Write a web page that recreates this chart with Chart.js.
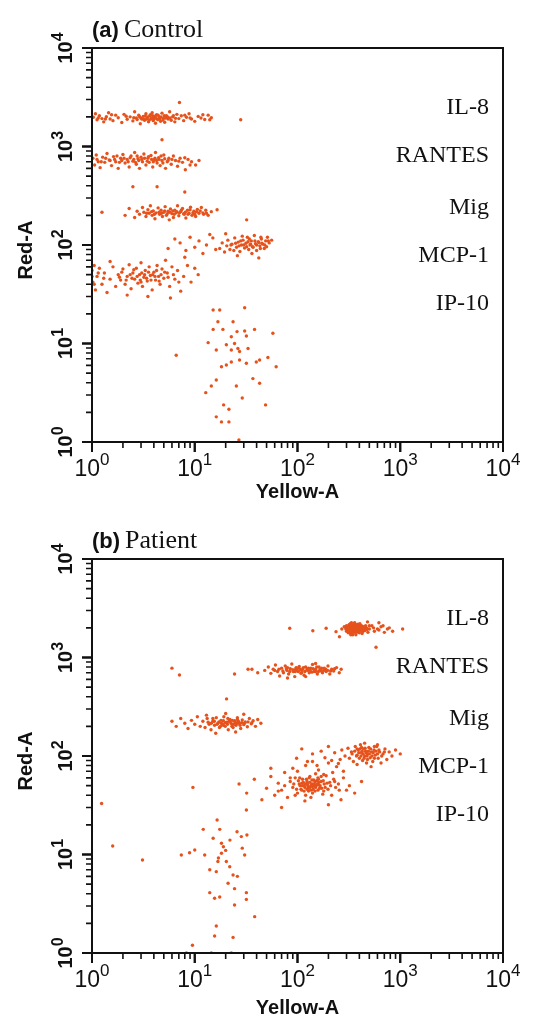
<!DOCTYPE html>
<html>
<head>
<meta charset="utf-8">
<title>Control vs Patient bead assay</title>
<script src="https://cdn.jsdelivr.net/npm/chart.js@4.4.1/dist/chart.umd.min.js"></script>
<style>
  html, body { margin: 0; padding: 0; background: #fff; }
  #wrap { position: relative; width: 547px; height: 1020px; }
  canvas { position: absolute; left: 0; }
  #chartA { top: 0; }
  #chartB { top: 510px; }
</style>
</head>
<body>
<div id="wrap">
  <canvas id="chartA" width="547" height="510"></canvas>
  <canvas id="chartB" width="547" height="510"></canvas>
</div>
<script>
// bead populations, each point is [Yellow-A, Red-A]
const beadNames = ['IL-8', 'RANTES', 'Mig', 'MCP-1', 'IP-10'];
const decadeExponents = [0, 1, 2, 3, 4];

// (a) control
const controlIL8 = [[1.03,1980],[1.08,2150],[1.12,1870],[1.18,2050],[1.25,1920],[1.3,1780],[1.38,2010],[1.45,2200],[1.5,1900],[1.6,1830],[1.7,2080],[1.8,1960],[1.95,1750],[2.05,2120],[2.2,1890],[2.35,2000],[2.5,1820],[2.6,2250],[2.7,1950],[2.85,2080],[2.95,1700],[3.05,1900],[3.15,2020],[3.25,1850],[3.35,2150],[3.45,1950],[3.55,1780],[3.65,2050],[3.75,1900],[3.85,2200],[3.95,1830],[4.05,1980],[4.15,1720],[4.25,2100],[4.35,1880],[4.5,2000],[4.65,1800],[4.8,2180],[4.95,1930],[5.1,1760],[5.3,2050],[5.5,1900],[5.7,2250],[5.9,1850],[6.1,2000],[6.4,1780],[6.7,2120],[7.0,1920],[7.4,2050],[7.8,1830],[8.3,1980],[8.8,2150],[9.3,1900],[10,1800],[10.8,2020],[11.5,1950],[12.5,1880],[13.5,2080],[14.5,1960],[7.1,2800],[4.8,1170],[28,1870],
  [2.55,1960],[2.75,1880],[2.9,2010],[3.0,1940],[3.2,1880],[3.3,2040],[3.4,1900],[3.5,1990],[3.6,1860],[3.7,2100],[3.8,1950],[3.9,2060],[4.0,1890],[4.1,2030],[4.2,1940],[4.4,2080],[4.55,1900],[4.7,1990],[4.9,1860],[5.05,2060],[5.2,1940],[5.45,1990],[5.75,1950],[6.2,2060],[6.5,1930],[1.15,1950],[1.35,1900],[1.55,2100],[2.15,2030],[8,2080],[9,1950],[12,2100],[14,1870]];
const controlRANTES = [[1.02,760],[1.06,650],[1.1,820],[1.15,700],[1.2,610],[1.27,780],[1.33,690],[1.4,850],[1.47,730],[1.55,640],[1.62,790],[1.7,700],[1.8,600],[1.9,760],[2.0,830],[2.1,680],[2.2,740],[2.3,620],[2.4,800],[2.5,710],[2.6,870],[2.7,660],[2.8,750],[2.9,600],[3.0,780],[3.1,700],[3.2,840],[3.35,650],[3.5,760],[3.6,690],[3.75,810],[3.9,620],[4.0,730],[4.15,870],[4.3,680],[4.45,770],[4.6,640],[4.8,720],[5.0,820],[5.2,600],[5.4,700],[5.6,760],[5.9,660],[6.2,800],[6.5,720],[6.8,630],[7.2,760],[7.6,690],[8.1,580],[8.6,740],[9.3,700],[10.2,650],[11,720],
  [1.12,740],[1.23,700],[1.36,760],[1.5,720],[1.66,740],[1.75,800],[1.85,690],[1.95,720],[2.05,760],[2.25,700],[2.35,770],[2.55,740],[2.65,690],[2.75,800],[2.85,720],[3.05,740],[3.25,760],[3.45,710],[3.55,790],[3.8,740],[3.95,700],[4.1,760],[4.25,720],[4.5,740],[4.7,800],[4.9,680],[5.1,750],[5.5,720],[6.0,740],[7.0,710],[8.0,770],[9,650]];
const controlMig = [[1.25,215],[2.1,200],[2.3,235],[2.5,390],[2.6,190],[2.75,220],[2.9,205],[3.1,240],[3.2,215],[3.35,195],[3.5,228],[3.6,210],[3.7,250],[3.85,200],[3.95,222],[4.1,185],[4.2,212],[4.3,390],[4.4,238],[4.55,205],[4.7,225],[4.85,195],[5.0,215],[5.15,245],[5.3,200],[5.5,220],[5.65,180],[5.8,232],[6.0,208],[6.2,190],[6.4,225],[6.6,212],[6.8,250],[7.0,198],[7.3,218],[7.6,235],[7.9,205],[8.0,345],[8.2,188],[8.5,225],[8.8,210],[9.1,242],[9.4,200],[9.8,220],[10.2,195],[10.6,230],[11,210],[11.6,240],[12.2,205],[12.8,225],[13.5,200],[14.5,218],[16.5,228],[32,180],
  [3.4,210],[3.8,218],[4.05,205],[4.5,215],[4.75,210],[5.1,222],[5.4,208],[5.7,215],[6.1,222],[6.3,205],[6.7,218],[7.1,212],[7.4,225],[7.8,208],[8.1,215],[8.6,205],[9.0,228],[9.6,212],[10,205],[10.4,218],[11.3,222],[12,212],[13,210]];
const controlMCP1 = [[17.5,92],[18.5,105],[19.5,85],[20.5,98],[21,112],[22,90],[23,102],[24,88],[24.5,118],[25.5,95],[26.5,107],[27.5,86],[28.5,100],[29.5,112],[30.5,93],[31.5,104],[32.5,120],[33.5,90],[34.5,100],[35.5,110],[37,95],[38,125],[39,103],[40,88],[41.5,108],[43,98],[44.5,115],[46,102],[47.5,92],[49,110],[51,120],[53,105],[56,112],[36,82],[29,123],[26,78],[15,118],[13,100],[12,82],[11,110],[10,95],[9,120],[8.2,88],[7.2,105],[6.4,115],[5.5,92],[14,128],[16,90],[20,130],[42,74],
  [22.5,100],[25,104],[27,98],[28,110],[30,100],[32,96],[33,108],[35,102],[36.5,96],[38.5,110],[40,100],[42,106],[43.5,92],[45,104],[48,100],[50,96],[52,110],[44,120],[34,115]];
const controlIP10 = [[1.0,55],[1.02,42],[1.05,62],[1.08,35],[1.12,48],[1.18,58],[1.25,40],[1.32,52],[1.4,33],[1.5,45],[1.6,60],[1.7,38],[1.8,50],[1.9,44],[2.0,57],[2.1,40],[2.2,48],[2.3,63],[2.4,36],[2.5,52],[2.6,45],[2.7,58],[2.8,41],[2.9,50],[3.0,66],[3.1,38],[3.2,47],[3.3,55],[3.45,43],[3.6,60],[3.7,49],[3.85,35],[4.0,53],[4.15,44],[4.3,62],[4.45,48],[4.6,40],[4.8,57],[5.0,46],[5.2,70],[5.4,52],[5.7,38],[6.0,60],[6.4,45],[6.8,55],[7.3,34],[7.8,48],[8.5,62],[9.2,42],[10,58],[10.8,50],[3.5,30],[2.2,31],[5.8,29],[1.5,68],[8,75],
  [1.85,47],[1.95,53],[2.15,44],[2.35,50],[2.45,46],[2.55,56],[2.75,48],[2.95,44],[3.05,52],[3.25,50],[3.4,46],[3.55,53],[3.75,44],[3.9,50],[4.1,48],[4.25,55],[4.5,43],[4.7,50],[5.1,53],[5.5,47],[1.3,46],[1.15,52],[1.0,48],[1.05,40],[6.2,50],[7,42],[3,42]];
const controlLow = [[15.1,21.9],[17.5,21.9],[30.6,23.1],[16.8,16.6],[23.6,16.6],[15.1,13.9],[18.8,13.9],[25.8,13.2],[30.6,13.4],[38.2,13.9],[57.6,12.7],[22.7,11.7],[31.8,11.9],[13.5,10.2],[20.3,9.7],[24.4,10],[26.3,8.9],[16.2,8.6],[22.7,8.6],[27.3,8.3],[33,8.9],[18.2,5.8],[20.3,6.05],[22.7,6.5],[27.3,6.8],[31.8,6.3],[39.7,6.5],[42.8,6.8],[51.5,7.2],[62,5.8],[16.2,4.26],[14.5,3.7],[12.8,3.17],[25.4,3.7],[36.8,4.4],[42.8,3.95],[29,2.8],[19.1,2.38],[21.5,2.15],[48.9,2.38],[16.2,1.8],[18.2,1.6],[21.5,1.6],[26.9,1.05],[6.6,7.6]];

// (b) patient
const patientIL8 = [[84,1980],[141,1870],[190,1980],[237,1830],[256,1625],[270,1950],[285,2050],[300,1850],[310,2000],[318,2150],[325,1900],[332,1750],[340,2050],[348,1950],[355,1850],[362,2100],[370,1980],[378,1800],[386,2000],[395,1900],[405,2200],[415,1950],[425,1750],[440,2050],[455,1880],[470,2000],[485,1800],[500,1950],[300,2000],[320,1800],[335,2250],[345,1700],[360,1950],[375,2150],[390,1850],[410,2050],[430,1920],[350,2000],[365,1880],[380,2020],[400,1780],[340,1900],[330,2050],[320,1950],[355,2200],[370,1700],[530,2100],[560,1850],[600,1950],[650,2050],[700,1800],[782,2000],[843,1850],[1055,1950],[581,1270],[620,2250],[480,2300],
  [295,1950],[305,1900],[312,2080],[322,2000],[328,1850],[338,1980],[342,2120],[352,1900],[358,2050],[364,1960],[368,1820],[374,2080],[382,1920],[388,2180],[392,2000],[398,1860],[404,2020],[412,1900],[420,2100],[428,2000],[436,1850],[445,1960],[460,2100],[475,1920],[318,1900],[333,1950],[346,2050],[356,1980],[366,2020],[378,1950],[386,1880],[395,2080],[408,1980],[300,2100],[312,1780],[326,2200],[344,1800],[362,1870],[376,2000],[390,1950],[420,1880],[450,2000],[350,1780],[310,1930],[340,2000],[370,2100],[400,2100],[330,1700],[360,2250],[500,2100],[550,2000],[620,1900],[680,2100],[750,1950]];
const patientRANTES = [[6.0,780],[7.1,665],[24.4,680],[33,760],[36,760],[41,700],[48,740],[52,800],[55,690],[58,760],[61,840],[64,720],[67,650],[70,780],[73,700],[76,820],[79,740],[82,680],[85,770],[88,860],[91,720],[94,640],[97,790],[100,730],[104,810],[108,690],[112,760],[116,660],[120,800],[125,740],[130,700],[135,780],[140,850],[145,720],[150,760],[156,680],[162,800],[168,740],[175,700],[182,780],[190,720],[198,820],[206,680],[215,760],[225,730],[240,790],[255,700],[266,760],[80,620],[120,640],[150,870],
  [60,740],[66,760],[72,730],[78,770],[84,720],[90,750],[96,760],[102,720],[106,760],[110,740],[114,790],[118,720],[124,760],[128,780],[133,740],[138,710],[142,770],[148,740],[154,800],[160,720],[166,760],[172,780],[180,740],[188,760],[196,740],[210,730],[230,770],[80,790],[100,780],[130,760],[150,720],[170,730],[110,700],[95,720]];
const patientMig = [[6.0,225],[6.6,200],[7.3,240],[8.0,215],[8.6,190],[9.3,230],[10,210],[10.6,250],[11.3,200],[12,225],[12.6,195],[13.2,240],[13.8,210],[14.4,185],[15,225],[15.6,205],[16.2,245],[16.8,215],[17.4,195],[18,230],[18.6,210],[19.2,250],[19.8,200],[20.4,380],[20.5,220],[21.2,185],[22,235],[22.8,212],[23.6,195],[24.4,228],[25.2,205],[26,245],[27,215],[28,190],[29,232],[30,208],[31,222],[32.5,198],[34,240],[35.5,212],[37,228],[39,200],[41,235],[44,215],[16,170],[25,175],[13,260],[30,265],[20,270],
  [13.5,220],[14.5,215],[15.5,225],[16.5,210],[17.2,222],[18.2,215],[19,228],[19.8,218],[20.8,210],[21.6,225],[22.4,218],[23.2,230],[24,210],[24.8,220],[25.8,215],[26.6,225],[27.6,205],[28.6,218],[30.5,215],[33,222],[36,218],[17.8,200],[21,240],[23,200],[26,235],[19,205],[15,240]];
const patientMCP1 = [[98,95],[110,118],[125,88],[140,105],[155,80],[170,112],[185,96],[200,125],[215,90],[230,108],[250,84],[270,115],[290,100],[310,120],[320,95],[335,110],[350,88],[365,125],[380,102],[390,115],[400,95],[410,130],[420,108],[430,90],[440,118],[450,100],[460,112],[470,85],[480,105],[495,122],[510,96],[525,110],[540,88],[555,115],[570,102],[590,125],[610,95],[630,110],[650,85],[680,105],[710,118],[740,92],[780,110],[830,100],[900,115],[1000,105],[450,135],[520,78],[600,130],[380,82],
  [340,105],[360,112],[375,100],[395,108],[405,118],[415,100],[425,112],[435,105],[445,95],[455,120],[465,108],[475,100],[490,112],[500,105],[515,118],[530,100],[545,108],[560,95],[580,112],[600,105],[620,115],[660,100],[700,110],[420,122],[480,92],[380,118],[560,125]];
const patientIP10 = [[9.6,48],[27,52],[32,42],[38,58],[45,36],[50,47],[55,62],[60,40],[65,53],[70,45],[75,68],[80,38],[85,55],[90,48],[95,60],[100,42],[104,52],[108,46],[112,58],[116,50],[120,40],[124,55],[128,48],[132,62],[136,45],[140,52],[144,57],[148,44],[152,50],[158,60],[164,47],[170,55],[176,41],[182,52],[190,63],[198,46],[206,54],[215,40],[225,58],[235,48],[250,52],[265,36],[280,60],[300,45],[320,50],[360,42],[420,55],[118,35],[135,38],[150,66],[100,70],[125,52],[130,47],[140,49],[110,53],[160,51],[70,30],[200,32],[55,75],
  [92,52],[98,46],[102,56],[106,50],[110,45],[114,54],[118,48],[122,58],[126,50],[128,44],[132,54],[134,49],[138,57],[142,46],[146,52],[150,48],[154,56],[158,45],[162,54],[166,50],[172,47],[178,56],[186,48],[194,53],[112,50],[120,52],[124,46],[136,51],[144,50],[148,55],[156,52],[116,44],[130,60],[140,42],[160,58],[105,60],[170,62],[95,40],[180,44],[210,50],[230,55],[255,45],[75,50],[65,44],[85,60],
  [90,75],[120,80],[160,72],[200,85],[240,78],[280,70],[140,88],[180,65],[260,92],[220,68]];
const patientLow = [[1.24,33],[1.59,12.2],[3.1,8.8],[7.4,9.9],[8.9,10.4],[10,11.1],[12.1,18],[12.5,9.9],[14,7],[14,4.1],[15.1,14.6],[16.5,22.4],[16.8,8.5],[17.5,18],[17.5,3.7],[18.2,13],[15.6,3.6],[16.2,6.7],[18.2,10.3],[20.3,8.5],[21.1,5.1],[21.9,7.5],[23.6,6.2],[24.4,3.07],[25.8,17],[24.4,4.5],[28.4,15.2],[29,11.6],[30.6,9.9],[32.2,15.8],[31.8,4.1],[31.8,3.5],[38.3,2.34],[31.8,28.3],[16.2,1.88],[15.6,1.49],[23.6,1.44],[9.5,1.2],[8.3,1.0],[14.5,1.0],[22.7,1.0],[19,12],[22,14],[26,6],[17,9.2],[20,11]];

const dotColor = '#e6521c';
const sansFont = '"Liberation Sans", Arial, sans-serif';
const serifFont = '"Liberation Serif", "Times New Roman", serif';

function dotSet(label, pts) {
  return {
    label: label,
    data: pts.map(p => ({ x: p[0], y: p[1] })),
    backgroundColor: dotColor,
    borderWidth: 0,
    pointRadius: 1.7,
    pointHoverRadius: 1.7
  };
}

// power-of-ten label: "10" plus a raised exponent
function powerLabel(ctx, exp, x, y, baseSize, expSize, lift) {
  ctx.font = baseSize;
  const wBase = ctx.measureText('10').width;
  ctx.font = expSize;
  const wExp = ctx.measureText(String(exp)).width;
  const start = x - (wBase + wExp) / 2;
  ctx.font = baseSize;
  ctx.fillText('10', start, y);
  ctx.font = expSize;
  ctx.fillText(String(exp), start + wBase, y - lift);
}

// frame, log ticks, labels and bead names
const flowAxes = {
  id: 'flowAxes',
  afterDatasetsDraw(chart, args, opts) {
    const ctx = chart.ctx;
    const a = chart.chartArea;
    const xs = chart.scales.x, ys = chart.scales.y;
    ctx.save();
    ctx.strokeStyle = '#111';
    ctx.fillStyle = '#111';
    ctx.lineWidth = 2;
    ctx.strokeRect(a.left, a.top, a.right - a.left, a.bottom - a.top);

    for (let k = 0; k < 4; k++) {
      for (let m = 1; m <= 10; m++) {
        const v = m * Math.pow(10, k);
        const major = (m === 1 || m === 10);
        const len = major ? 10 : 6;
        ctx.lineWidth = major ? 2 : 1.6;
        const px = xs.getPixelForValue(v);
        const py = ys.getPixelForValue(v);
        ctx.beginPath();
        ctx.moveTo(px, a.bottom);
        ctx.lineTo(px, a.bottom + len);
        ctx.moveTo(a.left, py);
        ctx.lineTo(a.left - len, py);
        ctx.stroke();
      }
    }

    ctx.textBaseline = 'alphabetic';
    ctx.textAlign = 'left';
    decadeExponents.forEach(e => {
      const v = Math.pow(10, e);
      powerLabel(ctx, e, xs.getPixelForValue(v), a.bottom + 34, '23px ' + sansFont, '17px ' + sansFont, 11);
      ctx.save();
      ctx.translate(a.left - 20, ys.getPixelForValue(v));
      ctx.rotate(-Math.PI / 2);
      powerLabel(ctx, e, 0, 0, 'bold 20px ' + sansFont, 'bold 16px ' + sansFont, 9);
      ctx.restore();
    });

    ctx.font = 'bold 20px ' + sansFont;
    ctx.textAlign = 'center';
    ctx.fillText('Yellow-A', (a.left + a.right) / 2, a.bottom + opts.xTitleGap);
    ctx.save();
    ctx.translate(32, (a.top + a.bottom) / 2 + 5);
    ctx.rotate(-Math.PI / 2);
    ctx.fillText('Red-A', 0, 0);
    ctx.restore();

    ctx.textAlign = 'left';
    ctx.font = 'bold 22px ' + sansFont;
    const tag = '(' + opts.letter + ')';
    ctx.fillText(tag, a.left, a.top - 11);
    const wTag = ctx.measureText(tag).width;
    ctx.font = '26px ' + serifFont;
    ctx.fillText(opts.group, a.left + wTag + 5, a.top - 11);

    ctx.textAlign = 'right';
    ctx.font = '24px ' + serifFont;
    beadNames.forEach((n, i) => {
      ctx.fillText(n, a.right - 14, a.top + opts.nameOffsets[i]);
    });
    ctx.restore();
  }
};

function makePanel(canvasId, sets, letter, group, pad, xTitleGap) {
  return new Chart(document.getElementById(canvasId), {
    type: 'scatter',
    data: {
      datasets: [
        dotSet('IL-8', sets[0]),
        dotSet('RANTES', sets[1]),
        dotSet('Mig', sets[2]),
        dotSet('MCP-1', sets[3]),
        dotSet('IP-10', sets[4]),
        dotSet('debris', sets[5])
      ]
    },
    options: {
      responsive: false,
      animation: false,
      layout: { padding: pad },
      scales: {
        x: { type: 'logarithmic', min: 1, max: 10000, display: false },
        y: { type: 'logarithmic', min: 1, max: 10000, display: false }
      },
      plugins: {
        legend: { display: false },
        tooltip: { enabled: false },
        flowAxes: {
          letter: letter,
          group: group,
          xTitleGap: xTitleGap,
          nameOffsets: [66, 114, 166, 214, 262]
        }
      }
    },
    plugins: [flowAxes]
  });
}

makePanel('chartA',
  [controlIL8, controlRANTES, controlMig, controlMCP1, controlIP10, controlLow],
  'a', 'Control', { left: 92, right: 44, top: 48, bottom: 68 }, 56);

makePanel('chartB',
  [patientIL8, patientRANTES, patientMig, patientMCP1, patientIP10, patientLow],
  'b', 'Patient', { left: 92, right: 44, top: 49, bottom: 67 }, 61);
</script>
</body>
</html>
